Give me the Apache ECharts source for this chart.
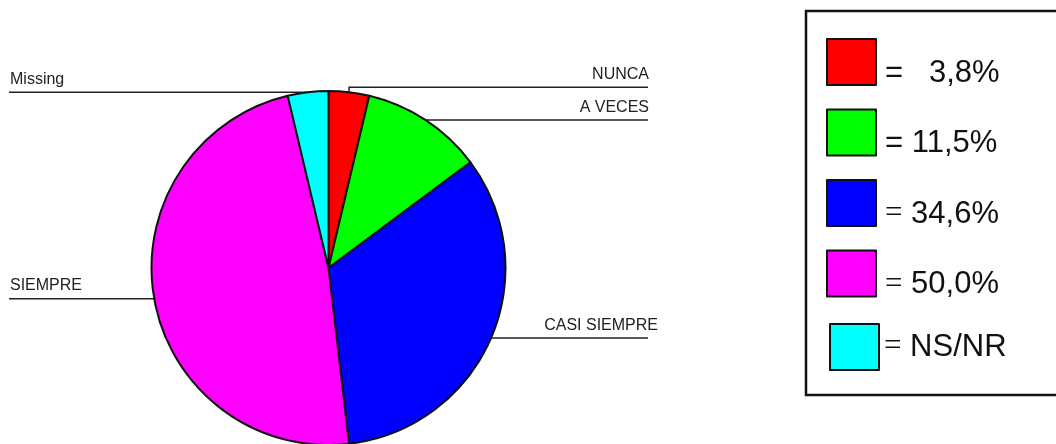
<!DOCTYPE html>
<html>
<head>
<meta charset="utf-8">
<script src="https://cdn.jsdelivr.net/npm/echarts@6/dist/echarts.min.js"></script>
<style>
  html, body { margin: 0; padding: 0; background: #fff; }
  #main { width: 1056px; height: 444px; }
</style>
</head>
<body>
<div id="main"></div>
<script>
// respuestas (frecuencias), Missing = sin respuesta
const categories = ['NUNCA', 'A VECES', 'CASI SIEMPRE', 'SIEMPRE', 'Missing'];
const counts = [1, 3, 9, 13, 1];
const colors = ['#ff0000', '#00ff00', '#0000ff', '#ff00ff', '#00ffff'];
const missingLabel = 'NS/NR';
// small vertical rise of the label line (NUNCA line sits above the pie top)
const lineRise = [5, 0, 0, 0, 0];
// CASI SIEMPRE text runs a bit past the end of its line
const textShift = [0, 0, 9, 0, 0];

const validTotal = counts.slice(0, 4).reduce((a, b) => a + b, 0);

function pctText(i) {
  if (categories[i] === 'Missing') return missingLabel;
  let p = (counts[i] / validTotal * 100).toFixed(1).replace('.', ',') + '%';
  return p;
}

function legendText(name) {
  const i = categories.indexOf(name);
  const eq = i < 2 ? '{eq|=}' : '{thin|=}';
  const gap = pctText(i).length < 5 ? '   ' : ' ';
  return eq + '{v|' + gap + pctText(i) + '}';
}

const legendRich = {
  eq: { fontSize: 31, fontFamily: 'Liberation Sans', color: '#111' },
  thin: { fontSize: 31, fontFamily: 'Liberation Serif', color: '#111' },
  v: { fontSize: 31, fontFamily: 'Liberation Sans', color: '#111' }
};

const chart = echarts.init(document.getElementById('main'), null, { renderer: 'canvas' });

const CX = 328.5, CY = 268, R = 177;
const LEFT_X = 9, RIGHT_X = 648;

const legendBase = {
  orient: 'vertical',
  padding: 0,
  itemWidth: 49,
  itemHeight: 46,
  itemGap: 20,
  icon: 'rect',
  selectedMode: false,
  itemStyle: { borderColor: '#111', borderWidth: 2 },
  formatter: legendText
};

const option = {
  animation: false,
  backgroundColor: '#fff',
  graphic: [{
    type: 'rect',
    shape: { x: 806, y: 11, width: 300, height: 384 },
    style: { fill: 'none', stroke: '#111', lineWidth: 2.5 },
    silent: true
  }],
  legend: [
    Object.assign({}, legendBase, {
      left: 826,
      top: 38,
      textStyle: { padding: [22, 0, 0, 4], rich: legendRich },
      data: categories.slice(0, 4)
    }),
    Object.assign({}, legendBase, {
      left: 829,
      top: 323,
      textStyle: { padding: [0, 0, 0, 0], rich: legendRich },
      data: categories.slice(4)
    })
  ],
  series: [{
    name: 'respuestas',
    type: 'pie',
    center: [CX, CY],
    radius: R,
    startAngle: 90,
    clockwise: true,
    avoidLabelOverlap: false,
    emphasis: { disabled: true },
    itemStyle: { borderColor: '#111', borderWidth: 2 },
    label: {
      show: true,
      position: 'outside',
      formatter: '{b}',
      fontSize: 16,
      fontFamily: 'Liberation Sans',
      color: '#222'
    },
    labelLine: {
      show: true,
      length: 0,
      length2: 10,
      lineStyle: { color: '#222', width: 1.5 }
    },
    labelLayout: function (params) {
      const i = params.dataIndex;
      const p = params.labelLinePoints[0];
      const y = p[1] - lineRise[i];
      const right = p[0] > CX;
      const endX = right ? RIGHT_X : LEFT_X;
      return {
        x: endX + 1 + textShift[i],
        y: y - 5,
        align: right ? 'right' : 'left',
        verticalAlign: 'bottom',
        labelLinePoints: [[p[0], p[1]], [p[0], y], [endX, y]]
      };
    },
    data: categories.map((c, i) => ({
      name: c,
      value: counts[i],
      itemStyle: { color: colors[i] }
    }))
  }]
};

chart.setOption(option);
</script>
</body>
</html>
